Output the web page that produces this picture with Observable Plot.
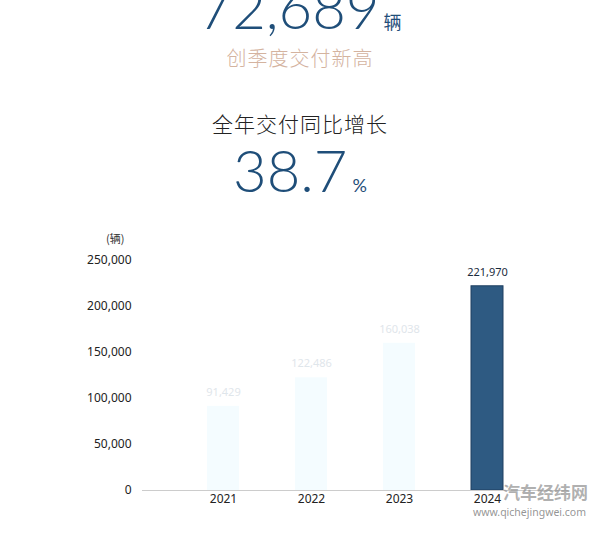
<!DOCTYPE html>
<html><head><meta charset="utf-8">
<script src="https://cdn.jsdelivr.net/npm/d3@7"></script>
<script src="https://cdn.jsdelivr.net/npm/@observablehq/plot@0.6"></script>
<style>
html,body{margin:0;padding:0;background:#fff;}
#page{position:relative;width:600px;height:542px;overflow:hidden;font-family:"Noto Sans","Noto Sans CJK SC",sans-serif;}
.abs{position:absolute;white-space:nowrap;}
.big{font-family:Lato,"Noto Sans",sans-serif;font-weight:300;color:#1f4e79;font-size:58px;line-height:1;}
#chart{position:absolute;left:0;top:225px;}
</style></head>
<body><div id="page">
  <div class="abs" style="left:0;width:600px;top:-22px;text-align:center;line-height:1;">
    <span class="big" id="total"></span><span style="font-family:'Noto Sans CJK SC';font-size:18px;color:#1f4e79;margin-left:4px;" id="unit1"></span>
  </div>
  <div class="abs" id="sub1" style="left:0;width:600px;top:46px;text-align:center;font-family:'Noto Sans CJK SC';font-size:20px;color:#d4b39f;letter-spacing:1px;font-weight:300;line-height:1.2;"></div>
  <div class="abs" id="sub2" style="left:0;width:600px;top:111px;text-align:center;font-family:'Noto Sans CJK SC';font-size:21px;color:#222;letter-spacing:1px;font-weight:300;line-height:1.2;"></div>
  <div class="abs" style="left:0;width:600px;top:141px;text-align:center;line-height:1;">
    <span class="big" id="growth"></span><span style="font-size:18px;color:#1f4e79;margin-left:5px;font-family:Lato,sans-serif;" id="pct"></span>
  </div>
  <div class="abs" id="ylab" style="left:106px;top:230px;font-family:'Noto Sans CJK SC';font-size:11px;color:#333;"></div>
  <div id="chart"></div>
  <div class="abs" id="wm1" style="left:503px;top:482px;font-family:'Noto Sans CJK SC';font-weight:700;font-size:17px;line-height:1.2;color:rgba(150,150,150,0.75);"></div>
  <div class="abs" id="wm2" style="left:473px;top:506px;font-family:'Noto Sans',sans-serif;font-size:10.5px;line-height:1.2;color:rgba(130,130,130,0.85);"></div>
</div>
<script>
const years = ["2021", "2022", "2023", "2024"];
const deliveries = [91429, 122486, 160038, 221970];
const yTicks = [0, 50000, 100000, 150000, 200000, 250000];
const headline = "72,689";
const headlineUnit = "辆";
const headlineNote = "创季度交付新高";
const growthTitle = "全年交付同比增长";
const growthValue = "38.7";
const growthUnit = "%";
const yUnitLabel = "(辆)";
const watermark = ["汽车经纬网", "www.qichejingwei.com"];

document.getElementById("total").textContent = headline;
document.getElementById("unit1").textContent = headlineUnit;
document.getElementById("sub1").textContent = headlineNote;
document.getElementById("sub2").textContent = growthTitle;
document.getElementById("growth").textContent = growthValue;
document.getElementById("pct").textContent = growthUnit;
document.getElementById("ylab").textContent = yUnitLabel;
document.getElementById("wm1").textContent = watermark[0];
document.getElementById("wm2").textContent = watermark[1];

const data = years.map((year, i) => ({year, value: deliveries[i]}));
const last = years[years.length - 1];
const fmt = d3.format(",");

const chart = Plot.plot({
  width: 600,
  height: 305,
  marginLeft: 142,
  marginRight: 32,
  marginTop: 35,
  marginBottom: 40,
  style: {fontFamily: "'Noto Sans', sans-serif", fontSize: "12px", color: "#222", background: "transparent"},
  x: {domain: years, paddingInner: 0.64, paddingOuter: 0.72, tickSize: 0, tickPadding: 4, label: null},
  y: {domain: [0, 250000], ticks: yTicks, tickFormat: fmt, tickSize: 0, tickPadding: 11, label: null},
  marks: [
    Plot.barY(data, {x: "year", y: "value",
      fill: d => d.year === last ? "#2e5a82" : "#f4fcff",
      stroke: d => d.year === last ? "#1f3f60" : "none", strokeWidth: 1}),
    Plot.ruleY([0], {stroke: "#cccccc"}),
    Plot.text(data, {x: "year", y: "value", text: d => fmt(d.value), dy: -14,
      fill: d => d.year === last ? "#1a2b3c" : "#dfe6eb",
      fontWeight: d => d.year === last ? "bold" : "normal", fontSize: 11})
  ]
});
document.getElementById("chart").appendChild(chart);
</script>
</body></html>
